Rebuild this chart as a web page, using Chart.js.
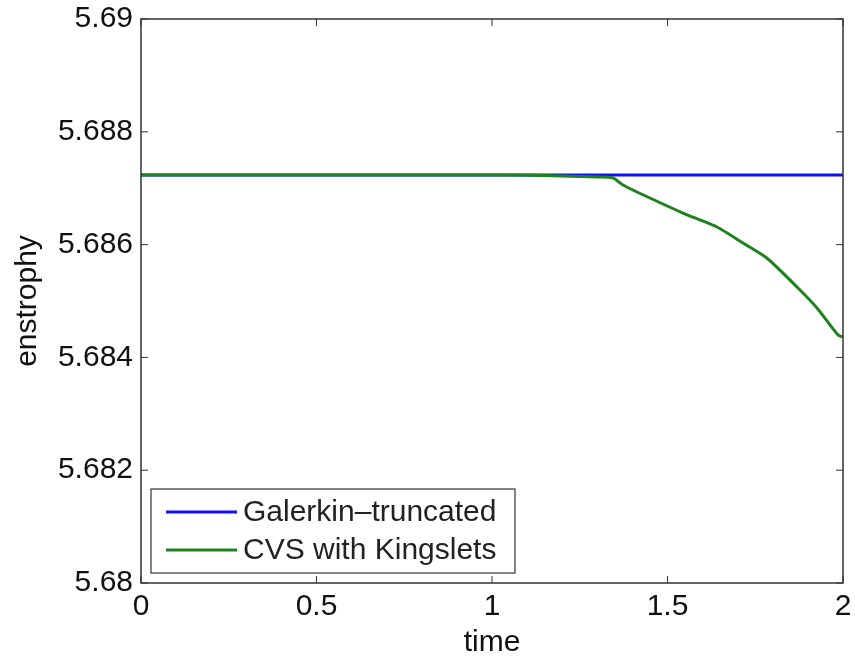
<!DOCTYPE html>
<html>
<head>
<meta charset="utf-8">
<script src="https://cdn.jsdelivr.net/npm/chart.js@4"></script>
<style>
  html, body { margin: 0; padding: 0; background: #fff; }
  #wrap { width: 855px; height: 656px; }
</style>
</head>
<body>
<div id="wrap"><canvas id="chart" width="855" height="656"></canvas></div>
<script>
// data
const galerkinTime = [0, 2];
const galerkinEnstrophy = [5.687234, 5.687234];

const kingsletTime = [0, 0.25, 0.5, 0.75, 1.0, 1.1, 1.2, 1.3, 1.345, 1.373, 1.45, 1.544, 1.641, 1.715, 1.783, 1.869, 1.926, 1.986, 2.0];
const kingsletEnstrophy = [5.687234, 5.687234, 5.687234, 5.687234, 5.687234, 5.687230, 5.687215, 5.687198, 5.687181, 5.687057, 5.686826, 5.686560, 5.686312, 5.686028, 5.685762, 5.685248, 5.684876, 5.684397, 5.684362];

const seriesLabels = ['Galerkin\u2013truncated', 'CVS with Kingslets'];
const xTicks = [0, 0.5, 1, 1.5, 2];
const yTicks = [5.68, 5.682, 5.684, 5.686, 5.688, 5.69];

const FONT = '"Liberation Sans", Arial, Helvetica, sans-serif';
const AXIS_COLOR = '#333333';

function toPoints(xs, ys) {
    return xs.map((x, i) => ({ x: x, y: ys[i] }));
}

// MATLAB style box with inward ticks on all four sides
const boxPlugin = {
    id: 'box',
    afterDatasetsDraw(chart) {
        const ctx = chart.ctx;
        const a = chart.chartArea;
        const xs = chart.scales.x;
        const ys = chart.scales.y;
        const len = 7;
        ctx.save();
        ctx.strokeStyle = AXIS_COLOR;
        ctx.lineWidth = 1.5;
        ctx.strokeRect(a.left, a.top, a.right - a.left, a.bottom - a.top);
        ctx.lineWidth = 1;
        ctx.beginPath();
        xTicks.forEach(v => {
            const px = xs.getPixelForValue(v);
            ctx.moveTo(px, a.bottom); ctx.lineTo(px, a.bottom - len);
            ctx.moveTo(px, a.top); ctx.lineTo(px, a.top + len);
        });
        yTicks.forEach(v => {
            const py = ys.getPixelForValue(v);
            ctx.moveTo(a.left, py); ctx.lineTo(a.left + len, py);
            ctx.moveTo(a.right, py); ctx.lineTo(a.right - len, py);
        });
        ctx.stroke();
        ctx.restore();
    }
};

// legend box in the lower left corner of the axes
const legendPlugin = {
    id: 'innerLegend',
    afterDraw(chart) {
        const ctx = chart.ctx;
        const a = chart.chartArea;
        const left = a.left + 10, top = 489, w = 364, h = 84;
        ctx.save();
        ctx.fillStyle = '#ffffff';
        ctx.fillRect(left, top, w, h);
        ctx.strokeStyle = AXIS_COLOR;
        ctx.lineWidth = 1.2;
        ctx.strokeRect(left, top, w, h);
        ctx.font = '30px ' + FONT;
        ctx.textBaseline = 'middle';
        chart.data.datasets.forEach((ds, i) => {
            const y = top + 23 + i * 38;
            ctx.strokeStyle = ds.borderColor;
            ctx.lineWidth = 3;
            ctx.beginPath();
            ctx.moveTo(left + 15, y);
            ctx.lineTo(left + 86, y);
            ctx.stroke();
            ctx.fillStyle = '#222222';
            ctx.fillText(ds.label, left + 92, y + 1);
        });
        ctx.restore();
    }
};

new Chart(document.getElementById('chart'), {
    type: 'line',
    data: {
        datasets: [
            {
                label: seriesLabels[0],
                data: toPoints(galerkinTime, galerkinEnstrophy),
                borderColor: '#1010ff',
                borderWidth: 3,
                pointRadius: 0,
                tension: 0,
                order: 1
            },
            {
                label: seriesLabels[1],
                data: toPoints(kingsletTime, kingsletEnstrophy),
                borderColor: '#1e821e',
                borderWidth: 3,
                pointRadius: 0,
                tension: 0.2,
                order: 0
            }
        ]
    },
    options: {
        responsive: false,
        animation: false,
        layout: { padding: { top: 19, right: 12, left: 0, bottom: 0 } },
        plugins: {
            legend: { display: false },
            tooltip: { enabled: false }
        },
        scales: {
            x: {
                type: 'linear',
                min: 0,
                max: 2,
                afterBuildTicks(scale) { scale.ticks = xTicks.map(v => ({ value: v })); },
                afterFit(scale) {
                    scale.height = 73;
                    scale.paddingLeft = 0;
                    scale.paddingRight = 0;
                },
                grid: { display: false, drawTicks: false },
                border: { display: false },
                ticks: {
                    color: '#111111',
                    font: { family: FONT, size: 30 },
                    padding: 6,
                    maxRotation: 0,
                    callback: v => String(v)
                },
                title: {
                    display: true,
                    text: 'time',
                    color: '#111111',
                    font: { family: FONT, size: 30 },
                    padding: { top: -6, bottom: -5 }
                }
            },
            y: {
                type: 'linear',
                min: 5.68,
                max: 5.69,
                afterBuildTicks(scale) { scale.ticks = yTicks.map(v => ({ value: v })); },
                afterFit(scale) {
                    scale.width = 141;
                    scale.paddingTop = 0;
                    scale.paddingBottom = 0;
                },
                grid: { display: false, drawTicks: false },
                border: { display: false },
                ticks: {
                    color: '#111111',
                    font: { family: FONT, size: 30 },
                    padding: 8,
                    callback: v => String(+v.toFixed(3))
                },
                title: {
                    display: true,
                    text: 'enstrophy',
                    color: '#111111',
                    font: { family: FONT, size: 30 },
                    padding: { top: 10, bottom: 0 }
                }
            }
        }
    },
    plugins: [boxPlugin, legendPlugin]
});
</script>
</body>
</html>
